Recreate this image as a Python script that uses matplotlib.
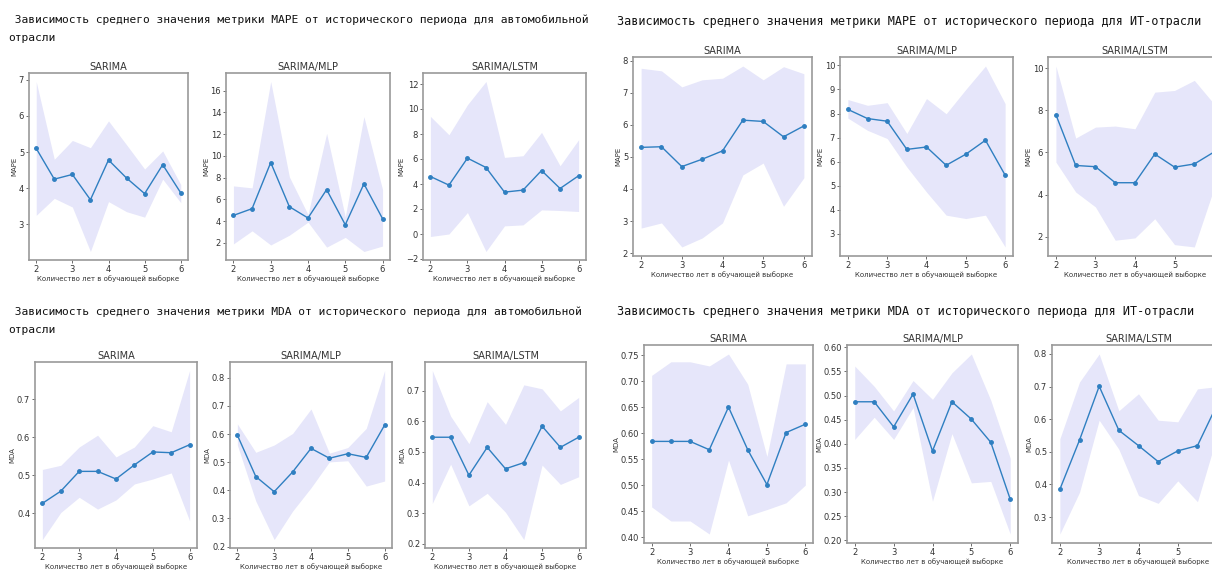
import matplotlib.pyplot as plt
from matplotlib.ticker import MultipleLocator

years = [2, 2.5, 3, 3.5, 4, 4.5, 5, 5.5, 6]
models = ['SARIMA', 'SARIMA/MLP', 'SARIMA/LSTM']
xlabel = 'Количество лет в обучающей выборке'

# MAPE, автомобильная отрасль
auto_mape_sarima = [5.10, 4.25, 4.38, 3.68, 4.78, 4.28, 3.85, 4.65, 3.87]
auto_mape_sarima_lo = [3.25, 3.72, 3.48, 2.25, 3.63, 3.35, 3.20, 4.25, 3.60]
auto_mape_sarima_hi = [6.95, 4.80, 5.32, 5.12, 5.86, 5.20, 4.53, 5.03, 4.10]
auto_mape_mlp = [4.52, 5.14, 9.38, 5.32, 4.28, 6.89, 3.66, 7.42, 4.22]
auto_mape_mlp_lo = [1.90, 3.10, 1.80, 2.70, 3.90, 1.60, 2.50, 1.20, 1.70]
auto_mape_mlp_hi = [7.23, 7.05, 16.83, 8.06, 4.60, 12.06, 4.40, 13.60, 6.90]
auto_mape_lstm = [4.60, 3.91, 6.07, 5.32, 3.35, 3.51, 5.08, 3.64, 4.66]
auto_mape_lstm_lo = [-0.20, 0.00, 1.72, -1.40, 0.65, 0.73, 1.93, 1.88, 1.80]
auto_mape_lstm_hi = [9.41, 7.94, 10.34, 12.20, 6.13, 6.26, 8.13, 5.46, 7.54]

# MAPE, ИТ-отрасль
it_mape_sarima = [5.30, 5.32, 4.70, 4.93, 5.19, 6.15, 6.11, 5.63, 5.97]
it_mape_sarima_lo = [2.78, 2.94, 2.19, 2.47, 2.94, 4.44, 4.81, 3.46, 4.35]
it_mape_sarima_hi = [7.77, 7.69, 7.19, 7.41, 7.46, 7.84, 7.41, 7.82, 7.60]
it_mape_mlp = [8.17, 7.79, 7.68, 6.51, 6.61, 5.85, 6.31, 6.89, 5.44]
it_mape_mlp_lo = [7.81, 7.30, 6.96, 5.78, 4.74, 3.78, 3.64, 3.78, 2.46]
it_mape_mlp_hi = [8.58, 8.34, 8.45, 7.17, 8.62, 7.99, 9.00, 9.97, 8.41]
it_mape_lstm = [7.79, 5.38, 5.32, 4.56, 4.56, 5.92, 5.30, 5.45, 6.02]
it_mape_lstm_lo = [5.54, 4.12, 3.41, 1.83, 1.94, 2.85, 1.62, 1.51, 4.30]
it_mape_lstm_hi = [10.10, 6.68, 7.20, 7.25, 7.12, 8.86, 8.94, 9.42, 8.30]

# MDA, автомобильная отрасль
auto_mda_sarima = [0.426, 0.458, 0.510, 0.510, 0.490, 0.527, 0.561, 0.559, 0.580]
auto_mda_sarima_lo = [0.331, 0.402, 0.442, 0.411, 0.435, 0.477, 0.490, 0.506, 0.380]
auto_mda_sarima_hi = [0.515, 0.526, 0.574, 0.605, 0.548, 0.574, 0.630, 0.614, 0.775]
auto_mda_mlp = [0.596, 0.449, 0.395, 0.465, 0.549, 0.514, 0.530, 0.517, 0.632]
auto_mda_mlp_lo = [0.561, 0.362, 0.225, 0.326, 0.409, 0.501, 0.505, 0.415, 0.433]
auto_mda_mlp_hi = [0.636, 0.535, 0.561, 0.602, 0.689, 0.532, 0.552, 0.620, 0.826]
auto_mda_lstm = [0.548, 0.548, 0.424, 0.515, 0.445, 0.465, 0.584, 0.515, 0.548]
auto_mda_lstm_lo = [0.332, 0.460, 0.324, 0.365, 0.303, 0.214, 0.457, 0.394, 0.419]
auto_mda_lstm_hi = [0.766, 0.617, 0.527, 0.664, 0.590, 0.719, 0.706, 0.634, 0.678]

# MDA, ИТ-отрасль
it_mda_sarima = [0.584, 0.584, 0.584, 0.568, 0.650, 0.568, 0.501, 0.601, 0.617]
it_mda_sarima_lo = [0.458, 0.431, 0.431, 0.406, 0.548, 0.441, 0.453, 0.466, 0.500]
it_mda_sarima_hi = [0.711, 0.737, 0.737, 0.729, 0.752, 0.694, 0.555, 0.733, 0.733]
it_mda_mlp = [0.487, 0.487, 0.435, 0.503, 0.385, 0.487, 0.451, 0.403, 0.285]
it_mda_mlp_lo = [0.409, 0.455, 0.409, 0.475, 0.281, 0.421, 0.319, 0.322, 0.213]
it_mda_mlp_hi = [0.561, 0.519, 0.468, 0.531, 0.492, 0.547, 0.586, 0.490, 0.370]
it_mda_lstm = [0.385, 0.536, 0.701, 0.566, 0.519, 0.470, 0.503, 0.519, 0.645]
it_mda_lstm_lo = [0.248, 0.376, 0.597, 0.508, 0.366, 0.342, 0.411, 0.347, 0.550]
it_mda_lstm_hi = [0.540, 0.714, 0.800, 0.626, 0.678, 0.597, 0.592, 0.693, 0.700]

W, H = 1212, 570
fig = plt.figure(figsize=(W / 100, H / 100), dpi=100)

# (данные, метрика, шаг оси Y, прямоугольник в пикселях: left, top, right, bottom)
panels = [
    (auto_mape_sarima, auto_mape_sarima_lo, auto_mape_sarima_hi, 'MAPE', 1, (29, 73, 188, 260)),
    (auto_mape_mlp, auto_mape_mlp_lo, auto_mape_mlp_hi, 'MAPE', 2, (226, 73, 390, 260)),
    (auto_mape_lstm, auto_mape_lstm_lo, auto_mape_lstm_hi, 'MAPE', 2, (423, 73, 586, 260)),
    (it_mape_sarima, it_mape_sarima_lo, it_mape_sarima_hi, 'MAPE', 1, (633, 57, 812, 256)),
    (it_mape_mlp, it_mape_mlp_lo, it_mape_mlp_hi, 'MAPE', 1, (840, 57, 1013, 256)),
    (it_mape_lstm, it_mape_lstm_lo, it_mape_lstm_hi, 'MAPE', 2, (1048, 57, 1222, 256)),
    (auto_mda_sarima, auto_mda_sarima_lo, auto_mda_sarima_hi, 'MDA', 0.1, (35, 362, 197, 548)),
    (auto_mda_mlp, auto_mda_mlp_lo, auto_mda_mlp_hi, 'MDA', 0.1, (230, 362, 392, 548)),
    (auto_mda_lstm, auto_mda_lstm_lo, auto_mda_lstm_hi, 'MDA', 0.1, (425, 362, 586, 548)),
    (it_mda_sarima, it_mda_sarima_lo, it_mda_sarima_hi, 'MDA', 0.05, (644, 345, 813, 543)),
    (it_mda_mlp, it_mda_mlp_lo, it_mda_mlp_hi, 'MDA', 0.05, (847, 345, 1018, 543)),
    (it_mda_lstm, it_mda_lstm_lo, it_mda_lstm_hi, 'MDA', 0.1, (1052, 345, 1225, 543)),
]

for i, (mean, lo, hi, metric, step, (l, t, r, b)) in enumerate(panels):
    ax = fig.add_axes([l / W, 1 - b / H, (r - l) / W, (b - t) / H])
    ax.fill_between(years, lo, hi, color='lavender', lw=0)
    ax.plot(years, mean, color='#2f7fc1', lw=1, marker='o', ms=2.5)
    ax.set_title(models[i % 3], fontsize=7, pad=2, color='#333333')
    ax.set_xticks([2, 3, 4, 5, 6])
    ax.yaxis.set_major_locator(MultipleLocator(step))
    ax.tick_params(labelsize=6, length=2, width=0.6, pad=1.5,
                   colors='#555555', labelcolor='#333333')
    ax.set_xlabel(xlabel, fontsize=5, labelpad=1, color='#333333')
    ax.set_ylabel(metric, fontsize=5, labelpad=1, color='#333333')
    for s in ax.spines.values():
        s.set_color('#999999')
        s.set_linewidth(1.2)

mono = dict(family='DejaVu Sans Mono', va='center', color='#111111')
fig.text(8 / W, 1 - 20 / H,
         ' Зависимость среднего значения метрики MAPE от исторического периода для автомобильной',
         fontsize=8.1, **mono)
fig.text(8 / W, 1 - 38 / H, 'отрасли', fontsize=8.1, **mono)
fig.text(617 / W, 1 - 21 / H,
         'Зависимость среднего значения метрики MAPE от исторического периода для ИТ-отрасли',
         fontsize=8.5, **mono)
fig.text(8 / W, 1 - 312 / H,
         ' Зависимость среднего значения метрики MDA от исторического периода для автомобильной',
         fontsize=8.1, **mono)
fig.text(8 / W, 1 - 330 / H, 'отрасли', fontsize=8.1, **mono)
fig.text(617 / W, 1 - 311 / H,
         'Зависимость среднего значения метрики MDA от исторического периода для ИТ-отрасли',
         fontsize=8.5, **mono)

fig.savefig('out.png', dpi=100)
